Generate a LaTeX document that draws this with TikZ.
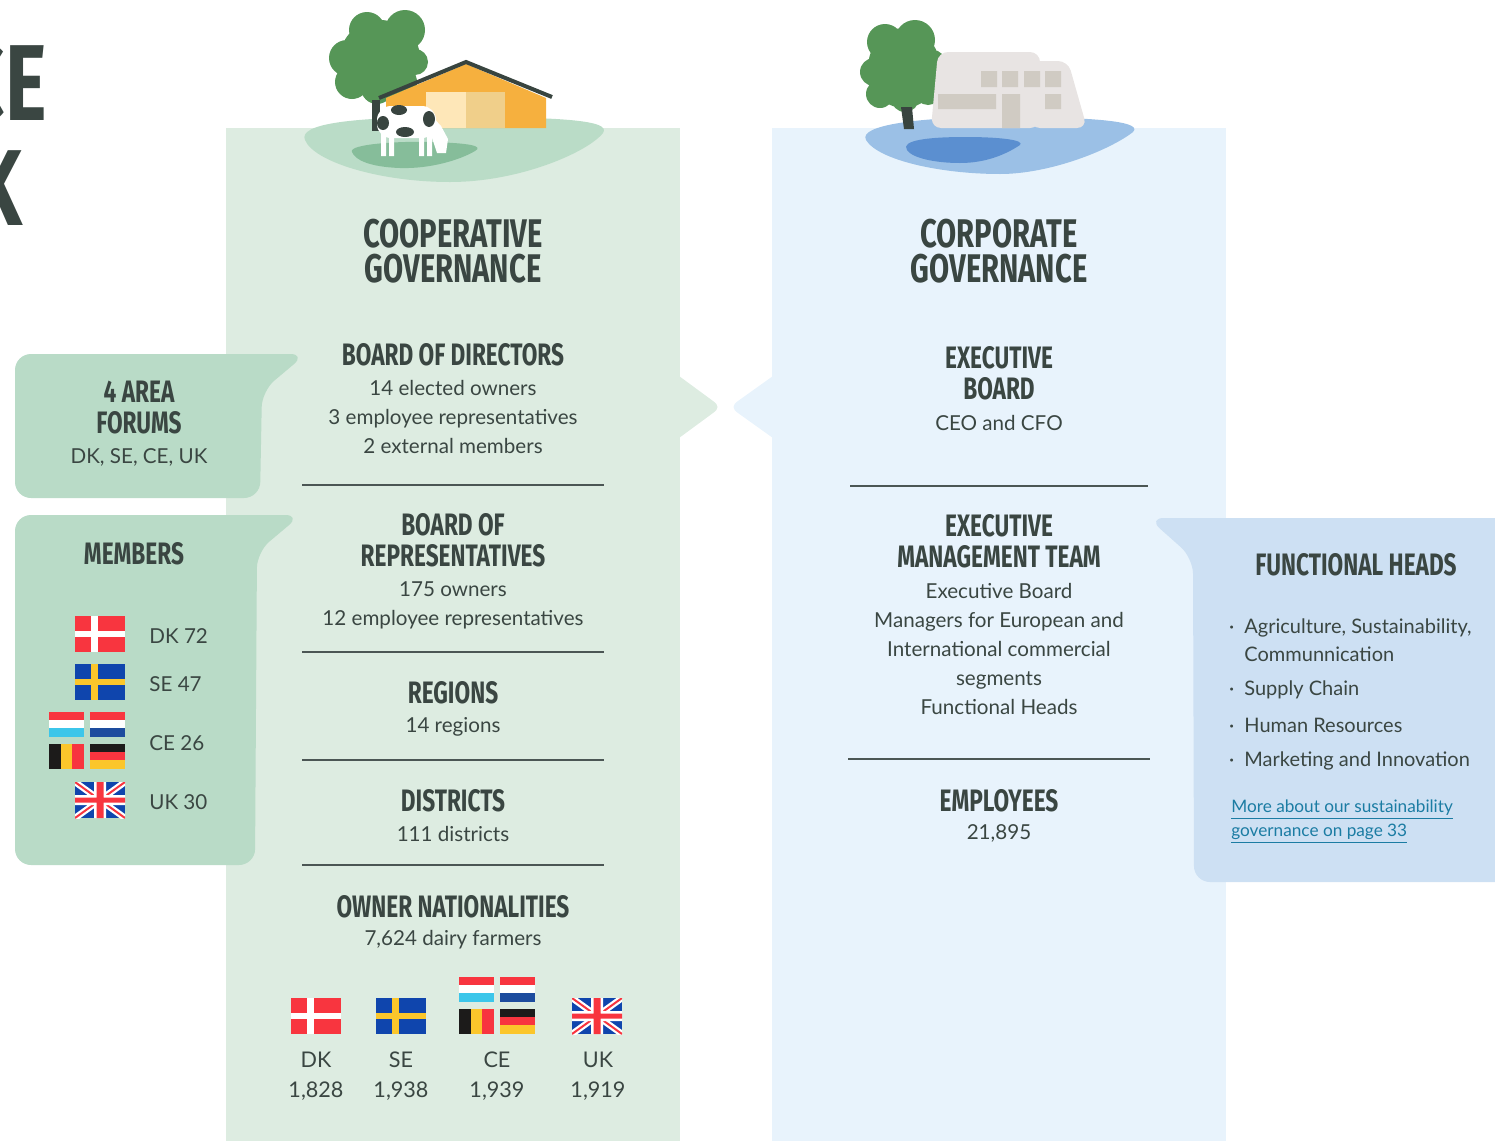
\documentclass[tikz,border=0pt]{standalone}
\usepackage{fontspec}
\setmainfont{Lato}
\newfontfamily\headfont[FakeStretch=0.73]{Fira Sans}

\definecolor{ink}{HTML}{3A4642}
\definecolor{coopbg}{HTML}{DDECE1}
\definecolor{corpbg}{HTML}{E8F3FC}
\definecolor{coopbox}{HTML}{B9DBC7}
\definecolor{corpbox}{HTML}{CDE0F3}
\definecolor{rulegrey}{HTML}{4B5654}
\definecolor{linkblue}{HTML}{1B7CA3}
\definecolor{meadow}{HTML}{BADCC7}
\definecolor{meadowdark}{HTML}{86BD9A}
\definecolor{leaf}{HTML}{569657}
\definecolor{trunk}{HTML}{38443F}
\definecolor{barn}{HTML}{F6B03E}
\definecolor{doorlight}{HTML}{FEE7B8}
\definecolor{doordark}{HTML}{F0CF8A}
\definecolor{lake}{HTML}{9BC0E6}
\definecolor{lakedeep}{HTML}{5B8FD0}
\definecolor{wall}{HTML}{E8E4E3}
\definecolor{pane}{HTML}{D0CBC3}
\definecolor{flagred}{HTML}{F8353F}
\definecolor{flagblue}{HTML}{0F45AD}
\definecolor{flagyellow}{HTML}{FBC62B}
\definecolor{flagsky}{HTML}{3CC6EA}
\definecolor{flagnavy}{HTML}{1D4C9E}
\definecolor{flagblack}{HTML}{1C1B1A}

\tikzset{
  title/.style={font=\headfont\bfseries\fontsize{20}{17.5}\selectfont, text=ink, align=center, inner sep=0pt},
  head/.style={font=\headfont\bfseries\fontsize{15.5}{15.5}\selectfont, text=ink, align=center, inner sep=0pt},
  body/.style={font=\fontsize{10.3}{14.5}\selectfont, text=ink, align=center, inner sep=0pt},
  item/.style={body, align=left, anchor=west},
  sep/.style={rulegrey, line width=0.8pt},
  % small flags, 35 x 25
  pics/hbars/.style n args={3}{code={
    \fill[#1] (-17.5,-12.5) rectangle (17.5,-4.17);
    \fill[#2] (-17.5,-4.17) rectangle (17.5,4.17);
    \fill[#3] (-17.5,4.17) rectangle (17.5,12.5);
  }},
  pics/vbars/.style n args={3}{code={
    \fill[#1] (-17.5,-12.5) rectangle (-5.83,12.5);
    \fill[#2] (-5.83,-12.5) rectangle (5.83,12.5);
    \fill[#3] (5.83,-12.5) rectangle (17.5,12.5);
  }},
  pics/ceflags/.style={code={
    \pic at (-20.5,-16) {hbars={flagred}{white}{flagsky}};
    \pic at (20.5,-16) {hbars={flagred}{white}{flagnavy}};
    \pic at (-20.5,16) {vbars={flagblack}{flagyellow}{flagred}};
    \pic at (20.5,16) {hbars={flagblack}{flagred}{flagyellow}};
  }},
  % big flags, 50 x 36
  pics/crossflag/.style 2 args={code={
    \fill[#1] (-25,-18) rectangle (25,18);
    \fill[#2] (-9,-18) rectangle (-2,18);
    \fill[#2] (-25,-3) rectangle (25,3);
  }},
  pics/ukflag/.style={code={
    \begin{scope}
      \clip (-25,-18) rectangle (25,18);
      \fill[flagblue] (-25,-18) rectangle (25,18);
      \draw[white,line width=3.2pt] (-25,-18) -- (25,18) (-25,18) -- (25,-18);
      \draw[flagred,line width=1pt] (-25,-18) -- (25,18) (-25,18) -- (25,-18);
      \fill[white] (-6,-18) rectangle (6,18) (-25,-5) rectangle (25,5);
      \fill[flagred] (-3.5,-18) rectangle (3.5,18) (-25,-2.5) rectangle (25,2.5);
    \end{scope}
  }},
}

\begin{document}
\begin{tikzpicture}[x=0.5pt,y=-0.5pt]
\useasboundingbox (0,0) rectangle (1495,1141);
\clip (0,0) rectangle (1495,1141);

% page title, runs off the left edge
\node[font=\headfont\bfseries\fontsize{54}{54}\selectfont, text=ink, anchor=base east, inner sep=0pt] (gov) at (47,120) {GOVERNANCE};
\node[font=\headfont\bfseries\fontsize{54}{54}\selectfont, text=ink, anchor=base east, inner sep=0pt] (frame) at (23,225) {FRAMEWORK};

% columns with their chevrons
\fill[coopbg] (226,128) rectangle (680,1141);
\fill[coopbg] (679,376) -- (713,401) .. controls (719,405) and (719,409) .. (713,413) -- (679,438) -- cycle;
\fill[corpbg] (772,128) rectangle (1226,1141);
\fill[corpbg] (773,376) -- (738,401) .. controls (732,405) and (732,409) .. (738,413) -- (773,438) -- cycle;

% callout boxes
\fill[coopbox, rounded corners=8] (15,354) -- (306,354) -- (262,391) -- (260,498) -- (15,498) -- cycle;
\fill[coopbox, rounded corners=8] (15,515) -- (301,515) -- (257,552) -- (255,865) -- (15,865) -- cycle;
\fill[corpbox, rounded corners=8] (1148,518) -- (1520,518) -- (1520,882) -- (1194,882) -- (1193,558) -- cycle;

% farm
\fill[meadow] (305,140) .. controls (298,124) and (350,117) .. (450,117) .. controls (560,117) and (612,120) .. (603,133) .. controls (588,152) and (520,182) .. (450,182) .. controls (380,182) and (314,162) .. (305,140);
\fill[meadowdark] (352,152) .. controls (348,144) and (400,141) .. (430,142) .. controls (470,143) and (484,146) .. (475,151) .. controls (460,160) and (430,169) .. (400,168) .. controls (370,167) and (355,160) .. (352,152);
\fill[leaf] (380,58) ellipse [x radius=40, y radius=38]
  (367,30) circle (18) (405,30) circle (20) (347,58) circle (18) (385,60) circle (28)
  (415,62) circle (13) (352,82) circle (17) (377,88) circle (16) (400,82) circle (17);
\fill[trunk] (372,100) rectangle (380,131);
\fill[barn] (386,98) -- (466,64) -- (546,98) -- (546,128) -- (386,128) -- cycle;
\fill[doorlight] (426,92) rectangle (466,128);
\fill[doordark] (466,92) rectangle (505,128);
\draw[trunk, line width=2pt] (379,98) -- (466,62) -- (552,97);
% cow
\fill[white, rounded corners=7] (377,106) rectangle (436,138);
\fill[white] (428,112) -- (441,126) -- (448,139) -- (446,153) -- (437,153) -- (432,138) -- cycle;
\fill[white] (381,132) rectangle (386,156) (389,132) rectangle (394,156) (419,132) rectangle (424,156) (427,132) rectangle (432,156);
\fill[trunk] (399,110) ellipse [x radius=8, y radius=5] (383,123) ellipse [x radius=6, y radius=7]
  (405,132) ellipse [x radius=9, y radius=5] (429,119) ellipse [x radius=6, y radius=8];

% office by the lake
\fill[lake] (866,140) .. controls (858,125) and (920,117) .. (1000,117) .. controls (1080,117) and (1145,120) .. (1133,132) .. controls (1110,150) and (1050,174) .. (1000,174) .. controls (940,174) and (878,160) .. (866,140);
\fill[lakedeep] (907,150) .. controls (900,140) and (930,137) .. (965,137) .. controls (1000,137) and (1025,140) .. (1020,145) .. controls (1005,155) and (985,163) .. (960,163) .. controls (935,163) and (912,158) .. (907,150);
\fill[leaf] (904,68) ellipse [x radius=36, y radius=40]
  (885,42) circle (18) (915,40) circle (20) (874,72) circle (14) (905,72) circle (28)
  (933,62) circle (12) (880,94) circle (14) (905,98) circle (14) (928,92) circle (13);
\fill[trunk] (901,107) -- (912,107) -- (914,129) -- (904,129) -- cycle;
\fill[wall, rounded corners=5] (931,128) -- (938,52) -- (1040,52) -- (1040,128) -- cycle;
\fill[wall, rounded corners=5] (1030,128) -- (1030,61) -- (1068,61) -- (1087,128) -- cycle;
\fill[pane] (981,71) rectangle (997,87) (1002,71) rectangle (1018,87) (1024,71) rectangle (1040,87) (1045,71) rectangle (1061,87)
  (938,94) rectangle (996,109) (1002,94) rectangle (1020,128) (1045,94) rectangle (1061,109);

% cooperative side
\node[title] (coop) at (453,251) {COOPERATIVE\\GOVERNANCE};
\node[head] (bod) at (453,355) {BOARD OF DIRECTORS};
\node[body] (bodtxt) at (453,417) {14 elected owners\\3 employee representatives\\2 external members};
\draw[sep] (302,485) -- (604,485);
\node[head] (bor) at (453,540) {BOARD OF\\REPRESENTATIVES};
\node[body] (bortxt) at (453,605) {175 owners\\12 employee representatives};
\draw[sep] (302,652) -- (604,652);
\node[head] (reg) at (453,693) {REGIONS};
\node[body] (regtxt) at (453,727) {14 regions};
\draw[sep] (302,760) -- (604,760);
\node[head] (dist) at (453,801) {DISTRICTS};
\node[body] (disttxt) at (453,834) {111 districts};
\draw[sep] (302,865) -- (604,865);
\node[head] (own) at (453,907) {OWNER NATIONALITIES};
\node[body] (owntxt) at (453,940) {7,624 dairy farmers};

\pic (odk) at (316,1016) {crossflag={flagred}{white}};
\pic (ose) at (401,1016) {crossflag={flagblue}{flagyellow}};
\pic (oce) at (497,1005) {ceflags};
\pic (ouk) at (597,1016) {ukflag};
\node[body, font=\fontsize{10.8}{15}\selectfont] (odktxt) at (316,1076) {DK\\1,828};
\node[body, font=\fontsize{10.8}{15}\selectfont] (osetxt) at (401,1076) {SE\\1,938};
\node[body, font=\fontsize{10.8}{15}\selectfont] (ocetxt) at (497,1076) {CE\\1,939};
\node[body, font=\fontsize{10.8}{15}\selectfont] (ouktxt) at (598,1076) {UK\\1,919};

% area forums and members
\node[head] (forums) at (139,408) {4 AREA\\FORUMS};
\node[body] (forumstxt) at (139,457) {DK, SE, CE, UK};
\node[head] (members) at (134,554) {MEMBERS};
\pic (mdk) at (100,634) {crossflag={flagred}{white}};
\pic (mse) at (100,682) {crossflag={flagblue}{flagyellow}};
\pic (mce) at (87,740) {ceflags};
\pic (muk) at (100,800) {ukflag};
\node[item] (mdktxt) at (149,636) {DK 72};
\node[item] (msetxt) at (149,684) {SE 47};
\node[item] (mcetxt) at (149,743) {CE 26};
\node[item] (mouktxt) at (149,802) {UK 30};

% corporate side
\node[title] (corp) at (999,251) {CORPORATE\\GOVERNANCE};
\node[head] (eb) at (999,373) {EXECUTIVE\\BOARD};
\node[body] (ebtxt) at (999,423) {CEO and CFO};
\draw[sep] (850,486) -- (1148,486);
\node[head] (emt) at (999,541) {EXECUTIVE\\MANAGEMENT TEAM};
\node[body] (emttxt) at (999,649) {Executive Board\\Managers for European and\\International commercial\\segments\\Functional Heads};
\draw[sep] (848,759) -- (1150,759);
\node[head] (emp) at (999,801) {EMPLOYEES};
\node[body] (emptxt) at (999,833) {21,895};

% functional heads
\node[head] (fh) at (1356,565) {FUNCTIONAL HEADS};
\node[item, font=\fontsize{10}{14}\selectfont] (fh1) at (1244,640) {\llap{\textperiodcentered\hspace{5pt}}Agriculture, Sustainability,\\Communnication};
\node[item, font=\fontsize{10}{14}\selectfont] (fh2) at (1244,690) {\llap{\textperiodcentered\hspace{5pt}}Supply Chain};
\node[item, font=\fontsize{10}{14}\selectfont] (fh3) at (1244,725) {\llap{\textperiodcentered\hspace{5pt}}Human Resources};
\node[item, font=\fontsize{10}{14}\selectfont] (fh4) at (1244,761) {\llap{\textperiodcentered\hspace{5pt}}Marketing and Innovation};
\node[item, text=linkblue, font=\fontsize{8.6}{12}\selectfont] (more) at (1231,822) {\underline{More about our sustainability}\\\underline{governance on page 33}};
\end{tikzpicture}
\end{document}
